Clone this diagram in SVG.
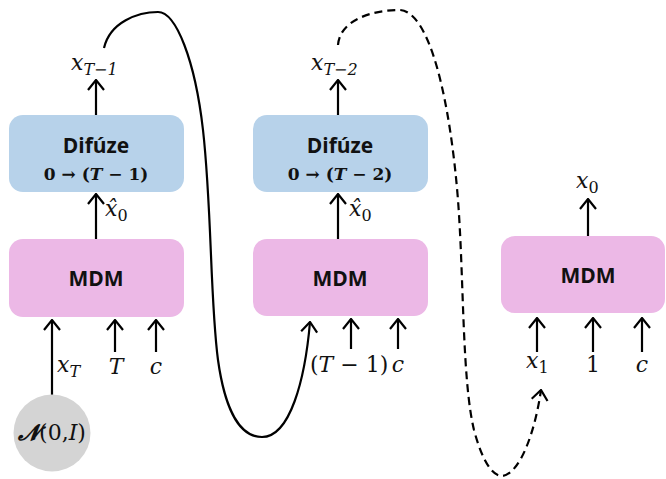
<svg xmlns="http://www.w3.org/2000/svg" width="666" height="479" viewBox="0 0 666 479">
<style>
.dif{fill:#b7d2ea}
.mdm{fill:#ecb8e6}
.lbl{font-family:"Open Sans","Liberation Sans",sans-serif;font-weight:700;fill:#111;text-anchor:middle}
.m{font-family:"DejaVu Serif","Liberation Serif",serif;font-style:italic;font-size:22px;fill:#111}
.mb{font-family:"DejaVu Serif","Liberation Serif",serif;font-weight:700;font-size:17px;fill:#111;text-anchor:middle}
.sub{font-size:16px}
.up{font-style:normal}
.ar{stroke:#000;stroke-width:2.2;fill:none;marker-end:url(#ah)}
</style>
<defs>
<marker id="ah" viewBox="0 0 12 18" refX="11" refY="9" markerWidth="12" markerHeight="18" markerUnits="userSpaceOnUse" orient="auto">
<path d="M1,1 L11,9 L1,17" fill="none" stroke="#000" stroke-width="2.2"/>
</marker>
</defs>

<g id="connectors">
<line class="ar" x1="96" y1="115" x2="96" y2="80"/>
<line class="ar" x1="96" y1="239" x2="96" y2="194"/>
<line class="ar" x1="52" y1="395" x2="52" y2="320"/>
<line class="ar" x1="115" y1="352" x2="115" y2="320"/>
<line class="ar" x1="156" y1="352" x2="156" y2="320"/>
<line class="ar" x1="338" y1="115" x2="338" y2="80"/>
<line class="ar" x1="338" y1="239" x2="338" y2="194"/>
<line class="ar" x1="351" y1="349" x2="351" y2="319"/>
<line class="ar" x1="398" y1="349" x2="398" y2="319"/>
<line class="ar" x1="588" y1="236" x2="588" y2="199"/>
<line class="ar" x1="537" y1="352" x2="537" y2="318"/>
<line class="ar" x1="593" y1="352" x2="593" y2="318"/>
<line class="ar" x1="642" y1="352" x2="642" y2="318"/>
<path class="ar" d="M104,48 C110,22 138,12 158,12 C176,12 195,60 203,130 C212,210 210,300 218,360 C225,410 240,437 262,437 C290,437 305,380 310,322"/>
<path class="ar" stroke-dasharray="8,5" d="M338,45 C340,20 372,10 400,10 C430,12 450,100 458,200 C464,280 462,380 474,430 C482,460 492,476 502,476 C520,474 535,432 541,390"/>
</g>

<g id="diff1">
<rect class="dif" x="9" y="115" width="175" height="77" rx="14"/>
<text class="lbl" x="96" y="153" font-size="21">Difúze</text>
<text class="mb" x="96" y="180">0 → (<tspan font-style="italic">T</tspan> − 1)</text>
</g>
<g id="mdm1">
<rect class="mdm" x="9" y="239" width="175" height="78" rx="14"/>
<text class="lbl" x="96" y="286" font-size="21">MDM</text>
</g>
<g id="noise">
<circle cx="52" cy="433" r="38.5" fill="#d4d4d4"/>
<text class="m" x="52" y="440" text-anchor="middle" font-size="19"><tspan font-weight="700">𝓝</tspan><tspan class="up">(0,</tspan><tspan>I</tspan><tspan class="up">)</tspan></text>
</g>
<g id="diff2">
<rect class="dif" x="253" y="115" width="175" height="77" rx="14"/>
<text class="lbl" x="340" y="153" font-size="21">Difúze</text>
<text class="mb" x="340" y="180">0 → (<tspan font-style="italic">T</tspan> − 2)</text>
</g>
<g id="mdm2">
<rect class="mdm" x="253" y="239" width="175" height="77" rx="14"/>
<text class="lbl" x="340" y="286" font-size="21">MDM</text>
</g>
<g id="mdm3">
<rect class="mdm" x="501" y="236" width="164" height="77" rx="14"/>
<text class="lbl" x="588" y="283" font-size="21">MDM</text>
</g>

<g id="labels">
<text class="m" x="71" y="70">x<tspan class="sub" dy="5">T−1</tspan></text>
<text class="m" x="105" y="216">x̂<tspan class="sub up" dy="5">0</tspan></text>
<text class="m" x="57" y="372">x<tspan class="sub" dy="5">T</tspan></text>
<text class="m" x="116" y="374" text-anchor="middle">T</text>
<text class="m" x="156" y="374" text-anchor="middle">c</text>
<text class="m" x="311" y="70">x<tspan class="sub" dy="5">T−2</tspan></text>
<text class="m" x="349" y="216">x̂<tspan class="sub up" dy="5">0</tspan></text>
<text class="m" x="310" y="372"><tspan class="up">(</tspan>T <tspan class="up">− 1)</tspan></text>
<text class="m" x="398" y="372" text-anchor="middle">c</text>
<text class="m" x="576" y="188">x<tspan class="sub up" dy="5">0</tspan></text>
<text class="m" x="526" y="368">x<tspan class="sub up" dy="5">1</tspan></text>
<text class="m up" x="593" y="372" text-anchor="middle">1</text>
<text class="m" x="642" y="372" text-anchor="middle">c</text>
</g>
</svg>
